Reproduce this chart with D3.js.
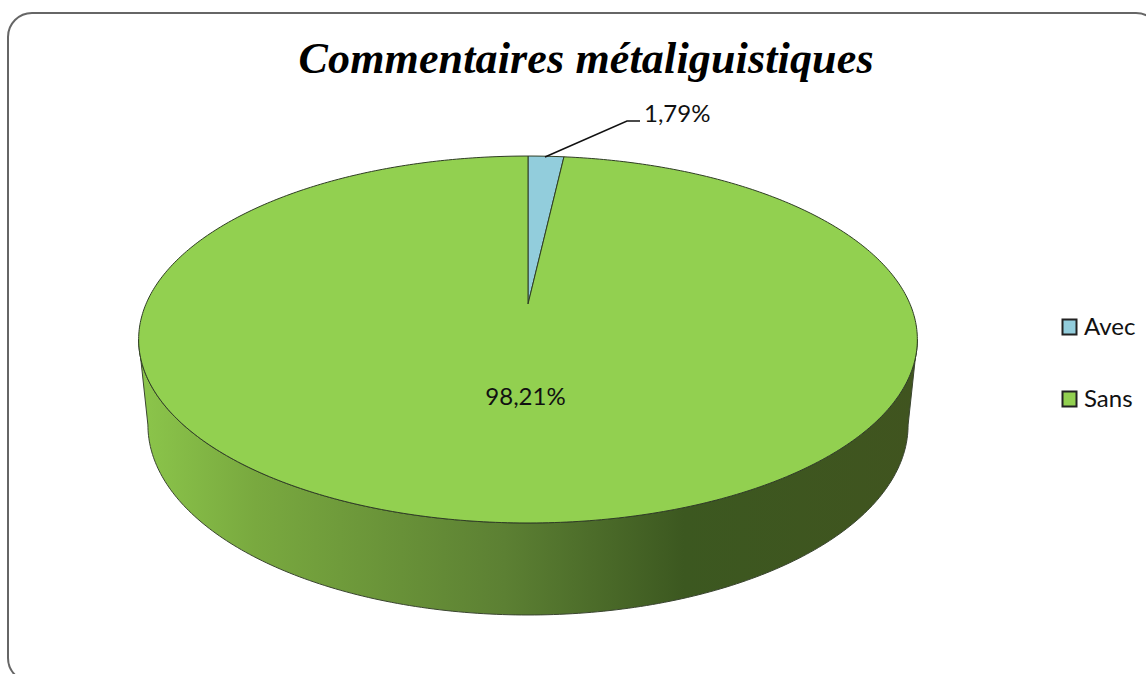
<!DOCTYPE html>
<html>
<head>
<meta charset="utf-8">
<script src="https://cdn.jsdelivr.net/npm/d3@7"></script>
<style>
  html, body { margin: 0; padding: 0; background: #fff; overflow: hidden; }
  text { fill: #111; font-family: Lato, "Open Sans", sans-serif; }
</style>
</head>
<body>
<div id="chart"></div>
<script>
const titleText = "Commentaires métaliguistiques";
const categories = ["Avec", "Sans"];
const values = [1.79, 98.21];
const valueLabels = ["1,79%", "98,21%"];
const sliceColors = ["#92cddc", "#92d050"];

const width = 1146;
const height = 674;

// perspective of the pie disc, worked out from where the rim and the apex sit
const apexX = 528;
const apexY = 304;
const persp = 0.1935;
const topRim = { kx: 382, ky: 176.6, dy: 0 };
const lowRim = { kx: 372.9, ky: 182.9, dy: 84.2 };

const project = function (angle, rim) {
  const u = Math.sin(angle);
  const v = Math.cos(angle);
  const w = 1 + persp * v;
  return [apexX + rim.kx * u / w, apexY + rim.dy - rim.ky * v / w];
};

const svg = d3.select("#chart").append("svg")
  .attr("width", width)
  .attr("height", height)
  .style("display", "block");

// side gradient
const sideStops = [
  [0, "#8cc64b"],
  [0.15, "#79a93f"],
  [0.47, "#5c8033"],
  [0.7, "#3c5820"],
  [1, "#40541f"]
];
const grad = svg.append("defs").append("linearGradient")
  .attr("id", "side")
  .attr("gradientUnits", "userSpaceOnUse")
  .attr("x1", 138).attr("x2", 918)
  .attr("y1", 0).attr("y2", 0);
grad.selectAll("stop").data(sideStops).enter().append("stop")
  .attr("offset", d => d[0])
  .attr("stop-color", d => d[1]);

// frame, runs off the right and the bottom of the picture
svg.append("rect")
  .attr("x", 8).attr("y", 13)
  .attr("width", 1152).attr("height", 669)
  .attr("rx", 24).attr("ry", 24)
  .attr("fill", "none")
  .attr("stroke", "#666")
  .attr("stroke-width", 2);

svg.append("text")
  .attr("x", 586)
  .attr("y", 73)
  .attr("text-anchor", "middle")
  .attr("textLength", 575)
  .attr("lengthAdjust", "spacing")
  .style("font-family", "'Liberation Serif', serif")
  .style("font-style", "italic")
  .style("font-weight", "bold")
  .style("font-size", "44px")
  .style("fill", "#000")
  .text(titleText);

const pie = d3.pie().sort(null)(values);
const line = d3.line();

// front wall of the disc, between the two widest points of the rim
const sideStart = Math.atan2(Math.sqrt(1 - persp * persp), -persp);
const sideAngles = d3.range(0, 201).map(i => sideStart + (2 * Math.PI - 2 * sideStart) * i / 200);
const sidePoints = sideAngles.map(a => project(a, topRim))
  .concat(sideAngles.slice().reverse().map(a => project(a, lowRim)));

svg.append("path")
  .attr("d", line(sidePoints) + "Z")
  .attr("fill", "url(#side)")
  .attr("stroke", "#3a4530")
  .attr("stroke-width", 1);

// top surface
svg.selectAll("path.slice")
  .data(pie)
  .enter()
  .append("path")
  .attr("class", "slice")
  .attr("d", d => {
    const n = Math.max(8, Math.ceil((d.endAngle - d.startAngle) * 80));
    const rim = d3.range(0, n + 1).map(i => project(d.startAngle + (d.endAngle - d.startAngle) * i / n, topRim));
    return line([[apexX, apexY]].concat(rim)) + "Z";
  })
  .attr("fill", (d, i) => sliceColors[i])
  .attr("stroke", "#2f3d24")
  .attr("stroke-width", 1)
  .attr("stroke-linejoin", "round");

// leader line of the small slice
svg.append("path")
  .attr("d", "M545,157L627,121L640,121")
  .attr("fill", "none")
  .attr("stroke", "#111")
  .attr("stroke-width", 1.5);

svg.append("text")
  .attr("x", 644).attr("y", 122)
  .style("font-size", "24px")
  .text(valueLabels[0]);

svg.append("text")
  .attr("x", 525.5).attr("y", 405)
  .attr("text-anchor", "middle")
  .style("font-size", "24px")
  .text(valueLabels[1]);

// legend
const legendY = d3.scalePoint().domain(categories).range([327, 399]);

const legend = svg.selectAll("g.legend")
  .data(categories)
  .enter()
  .append("g")
  .attr("class", "legend")
  .attr("transform", d => "translate(0," + legendY(d) + ")");

legend.append("rect")
  .attr("x", 1062.5).attr("y", -7.5)
  .attr("width", 14).attr("height", 15)
  .attr("fill", (d, i) => sliceColors[i])
  .attr("stroke", "#222")
  .attr("stroke-width", 2);

legend.append("text")
  .attr("x", 1084).attr("y", 7.5)
  .style("font-size", "24px")
  .text(d => d);
</script>
</body>
</html>
